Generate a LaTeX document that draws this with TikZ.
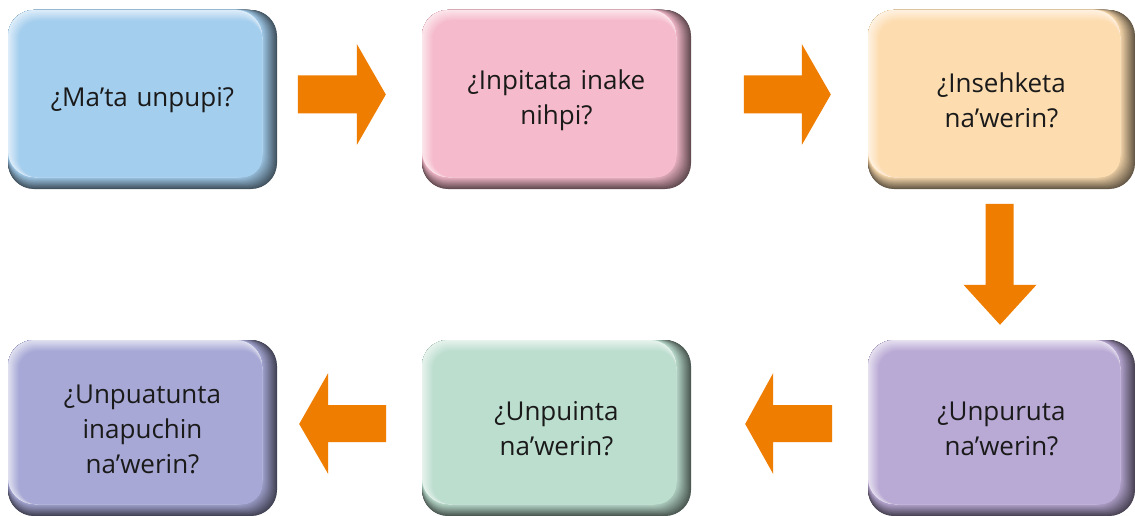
\documentclass[tikz,border=0pt]{standalone}
\usepackage{fontspec}
\setmainfont{Open Sans}
\usetikzlibrary{calc}
\definecolor{cblue}{HTML}{A4CEEE}
\definecolor{cpink}{HTML}{F5BACB}
\definecolor{cpeach}{HTML}{FDDDB0}
\definecolor{cpurple}{HTML}{B9A9D5}
\definecolor{cmint}{HTML}{BCDECF}
\definecolor{clav}{HTML}{A7A8D6}
\definecolor{corange}{HTML}{EF7D00}
\definecolor{ctext}{HTML}{1A1A1A}
\tikzset{
  qbox/.style={minimum width=269pt, minimum height=178pt, inner sep=0pt,
    text width=250pt, align=center, text=ctext,
    font=\fontsize{26}{35}\selectfont},
  blockarrow/.style={fill=corange, draw=none},
}
% \bevbox{name}{x0}{y0}{x1}{y1}{colour}{text}
\newcommand\bevbox[7]{%
  \colorlet{bvmain}{#6}%
  \colorlet{bvdark}{#6!40!black}%
  \colorlet{bvlight}{#6!35!white}%
  \foreach \i in {0,...,30}{%
    \pgfmathtruncatemacro\p{100*\i/30}%
    \fill[bvmain!\p!bvdark, rounded corners=26pt] (#2,#3) rectangle ({#4-0.5*\i},{#5-0.4*\i});
  }%
  \foreach \i in {0,...,22}{%
    \pgfmathtruncatemacro\p{100*\i/22}%
    \fill[bvmain!\p!bvlight, rounded corners={26pt-\i*0.3pt}] ({#2+0.5*\i},{#3+0.5*\i}) rectangle ({#4-15},{#5-12});
  }%
  \node[qbox] (#1) at ({(#2+#4)/2},{(#3+#5)/2+1}) {#7};
}
\begin{document}
\begin{tikzpicture}[x=1pt,y=-1pt]
\useasboundingbox (0,0) rectangle (1135,516);
\fill[white] (0,0) rectangle (1135,516);

\bevbox{b1}{8}{10}{277}{189}{cblue}{¿Ma’ta unpupi?}
\bevbox{b2}{422}{10}{691}{189}{cpink}{¿Inpitata inake\\nihpi?}
\bevbox{b3}{868}{10}{1135}{189}{cpeach}{¿Insehketa\\na’werin?}
\bevbox{b4}{868}{340}{1135}{516}{cpurple}{¿Unpuruta\\na’werin?}
\bevbox{b5}{422}{340}{691}{516}{cmint}{¿Unpuinta\\na’werin?}
\bevbox{b6}{8}{340}{277}{516}{clav}{¿Unpuatunta\\inapuchin\\na’werin?}

% right arrows
\coordinate (a12) at ($(b2.west)+(-36,-6)$);
\fill[blockarrow] (a12) -- ++(-29,-50.5) -- ++(0,31.5) -- ++(-59,0) -- ++(0,38) -- ++(59,0) -- ++(0,31.5) -- cycle;
\coordinate (a23) at ($(b3.west)+(-36,-6)$);
\fill[blockarrow] (a23) -- ++(-29,-50.5) -- ++(0,31.5) -- ++(-58,0) -- ++(0,38) -- ++(58,0) -- ++(0,31.5) -- cycle;
% down arrow
\coordinate (a34) at ($(b4.north)+(-1.5,-15)$);
\fill[blockarrow] (a34) -- ++(-36.5,-40) -- ++(22,0) -- ++(0,-81) -- ++(28,0) -- ++(0,81) -- ++(23,0) -- cycle;
% left arrows
\coordinate (a45) at ($(b5.east)+(54,-5)$);
\fill[blockarrow] (a45) -- ++(28,-51) -- ++(0,32) -- ++(59,0) -- ++(0,37) -- ++(-59,0) -- ++(0,32) -- cycle;
\coordinate (a56) at ($(b6.east)+(22,-5)$);
\fill[blockarrow] (a56) -- ++(29,-51) -- ++(0,32) -- ++(58,0) -- ++(0,37) -- ++(-58,0) -- ++(0,32) -- cycle;
\end{tikzpicture}
\end{document}
